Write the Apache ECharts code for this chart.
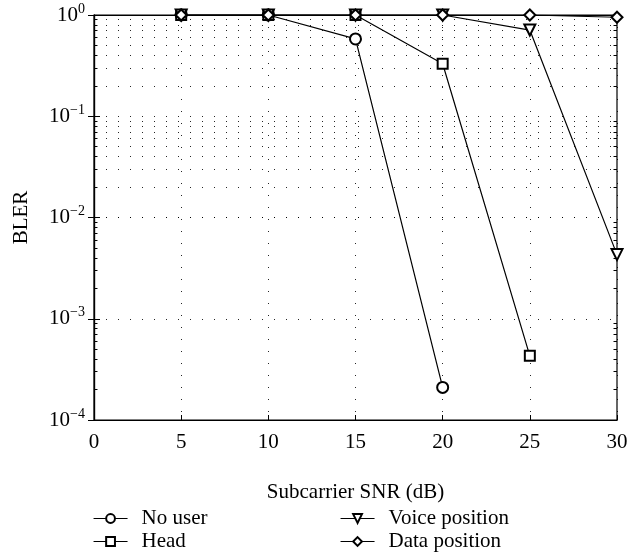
<!DOCTYPE html>
<html><head><meta charset="utf-8">
<script src="https://cdn.jsdelivr.net/npm/echarts@6/dist/echarts.min.js"></script>
<style>html,body{margin:0;padding:0;background:#fff}#c{width:640px;height:556px}</style>
</head><body><div id="c"></div>
<script>
// Data
const snr = [5, 10, 15, 20, 25, 30];
const noUser = [1, 1, 0.58, 2.1e-4, null, null];
const head = [1, 1, 1, 0.33, 4.3e-4, null];
const voicePos = [1, 1, 1, 1, 0.71, 4.3e-3];
const dataPos = [1, 1, 1, 1, 1, 0.95];
const seriesNames = ['No user', 'Head', 'Voice position', 'Data position'];
const xTicks = [0, 5, 10, 15, 20, 25, 30];
const yDecades = [1e-4, 1e-3, 1e-2, 1e-1, 1];

const FONT = 'Liberation Serif';
const FS = 21;
const pairs = arr => snr.map((x, i) => arr[i] == null ? null : [x, arr[i]]).filter(p => p);

// minor grid values 2..9 per decade
const minorVals = [];
yDecades.slice(0, 4).forEach(d => { for (let k = 2; k <= 9; k++) minorVals.push(d * k); });

const dotted = { color: '#000', width: 1, type: [1, 11], opacity: 0.85 };
const gridLines = [];
minorVals.forEach(v => gridLines.push({ yAxis: v }));
const tickSegs = [];
minorVals.forEach(v => {
  tickSegs.push([{ coord: [0, v], lineStyle: { type: 'solid', color: '#000', width: 1, opacity: 1 } }, { coord: [0.2, v] }]);
  tickSegs.push([{ coord: [29.8, v], lineStyle: { type: 'solid', color: '#000', width: 1, opacity: 1 } }, { coord: [30, v] }]);
});

const sup = e => '{a|10}{b|' + (e < 0 ? '\u2212' + (-e) : e) + '}';

const mk = (name, data, symbol, rot, size) => ({
  name, type: 'line', data: pairs(data), symbol, symbolSize: size,
  symbolRotate: rot || 0, showAllSymbol: true, z: 5,
  lineStyle: { color: '#000', width: 1.2 },
  itemStyle: { color: '#000', borderColor: '#000', borderWidth: 1.2 }
});

const legendPos = [[93, 508], [93, 531], [340, 508], [340, 531]];
const legends = seriesNames.map((n, i) => ({
  data: [n], left: legendPos[i][0], top: legendPos[i][1], itemWidth: 34, itemHeight: 11, padding: 0,
  lineStyle: { width: 1.1 }, itemStyle: { borderWidth: 1.1 },
  textStyle: { fontFamily: FONT, fontSize: FS, color: '#000', padding: [0, 0, 0, 9] }
}));

const option = {
  animation: false,
  backgroundColor: '#fff',
  grid: { left: 94, right: 23, top: 15, bottom: 136, show: true, borderColor: '#000', borderWidth: 1.2 },
  legend: legends,
  xAxis: [{
    type: 'value', min: 0, max: 30, interval: 5,
    name: 'Subcarrier SNR (dB)', nameLocation: 'middle', nameGap: 62,
    nameTextStyle: { fontFamily: FONT, fontSize: FS, color: '#000' },
    axisLine: { lineStyle: { color: '#000', width: 1.2 } },
    axisTick: { inside: true, length: 5, lineStyle: { color: '#000' } },
    axisLabel: { fontFamily: FONT, fontSize: FS, color: '#000', margin: 12 },
    splitLine: { show: true, lineStyle: dotted }
  }, {
    type: 'value', min: 0, max: 30, interval: 5, position: 'top',
    axisLine: { lineStyle: { color: '#000', width: 1.2 } },
    axisTick: { inside: true, length: 5, lineStyle: { color: '#000' } },
    axisLabel: { show: false }, splitLine: { show: false }
  }],
  yAxis: [{
    type: 'log', logBase: 10, min: 1e-4, max: 1,
    name: 'BLER', nameLocation: 'middle', nameGap: 62, nameRotate: 90,
    nameTextStyle: { fontFamily: FONT, fontSize: FS, color: '#000' },
    axisLine: { lineStyle: { color: '#000', width: 1.2 } },
    axisTick: { inside: true, length: 6, lineStyle: { color: '#000' } },
    axisLabel: {
      margin: 9, color: '#000',
      formatter: v => sup(Math.round(Math.log10(v))),
      rich: {
        a: { fontFamily: FONT, fontSize: FS, color: '#000' },
        b: { fontFamily: FONT, fontSize: 14, color: '#000', padding: [0, 0, 12, 0] }
      }
    },
    splitLine: { show: true, lineStyle: dotted }
  }, {
    type: 'log', logBase: 10, min: 1e-4, max: 1, position: 'right',
    axisLine: { lineStyle: { color: '#000', width: 1.2 } },
    axisTick: { inside: true, length: 6, lineStyle: { color: '#000' } },
    axisLabel: { show: false }, splitLine: { show: false }
  }],
  series: [
    { type: 'line', data: [], silent: true, z: 1,
      markLine: { silent: true, symbol: 'none', label: { show: false }, animation: false,
        lineStyle: dotted, data: gridLines.concat(tickSegs) } },
    mk('No user', noUser, 'emptyCircle', 0, 11),
    mk('Head', head, 'emptyRect', 0, 10),
    mk('Voice position', voicePos, 'emptyTriangle', 180, 11),
    mk('Data position', dataPos, 'emptyDiamond', 0, 11)
  ]
};
const chart = echarts.init(document.getElementById('c'), null, { renderer: 'canvas' });
chart.setOption(option);
</script>
</body></html>
